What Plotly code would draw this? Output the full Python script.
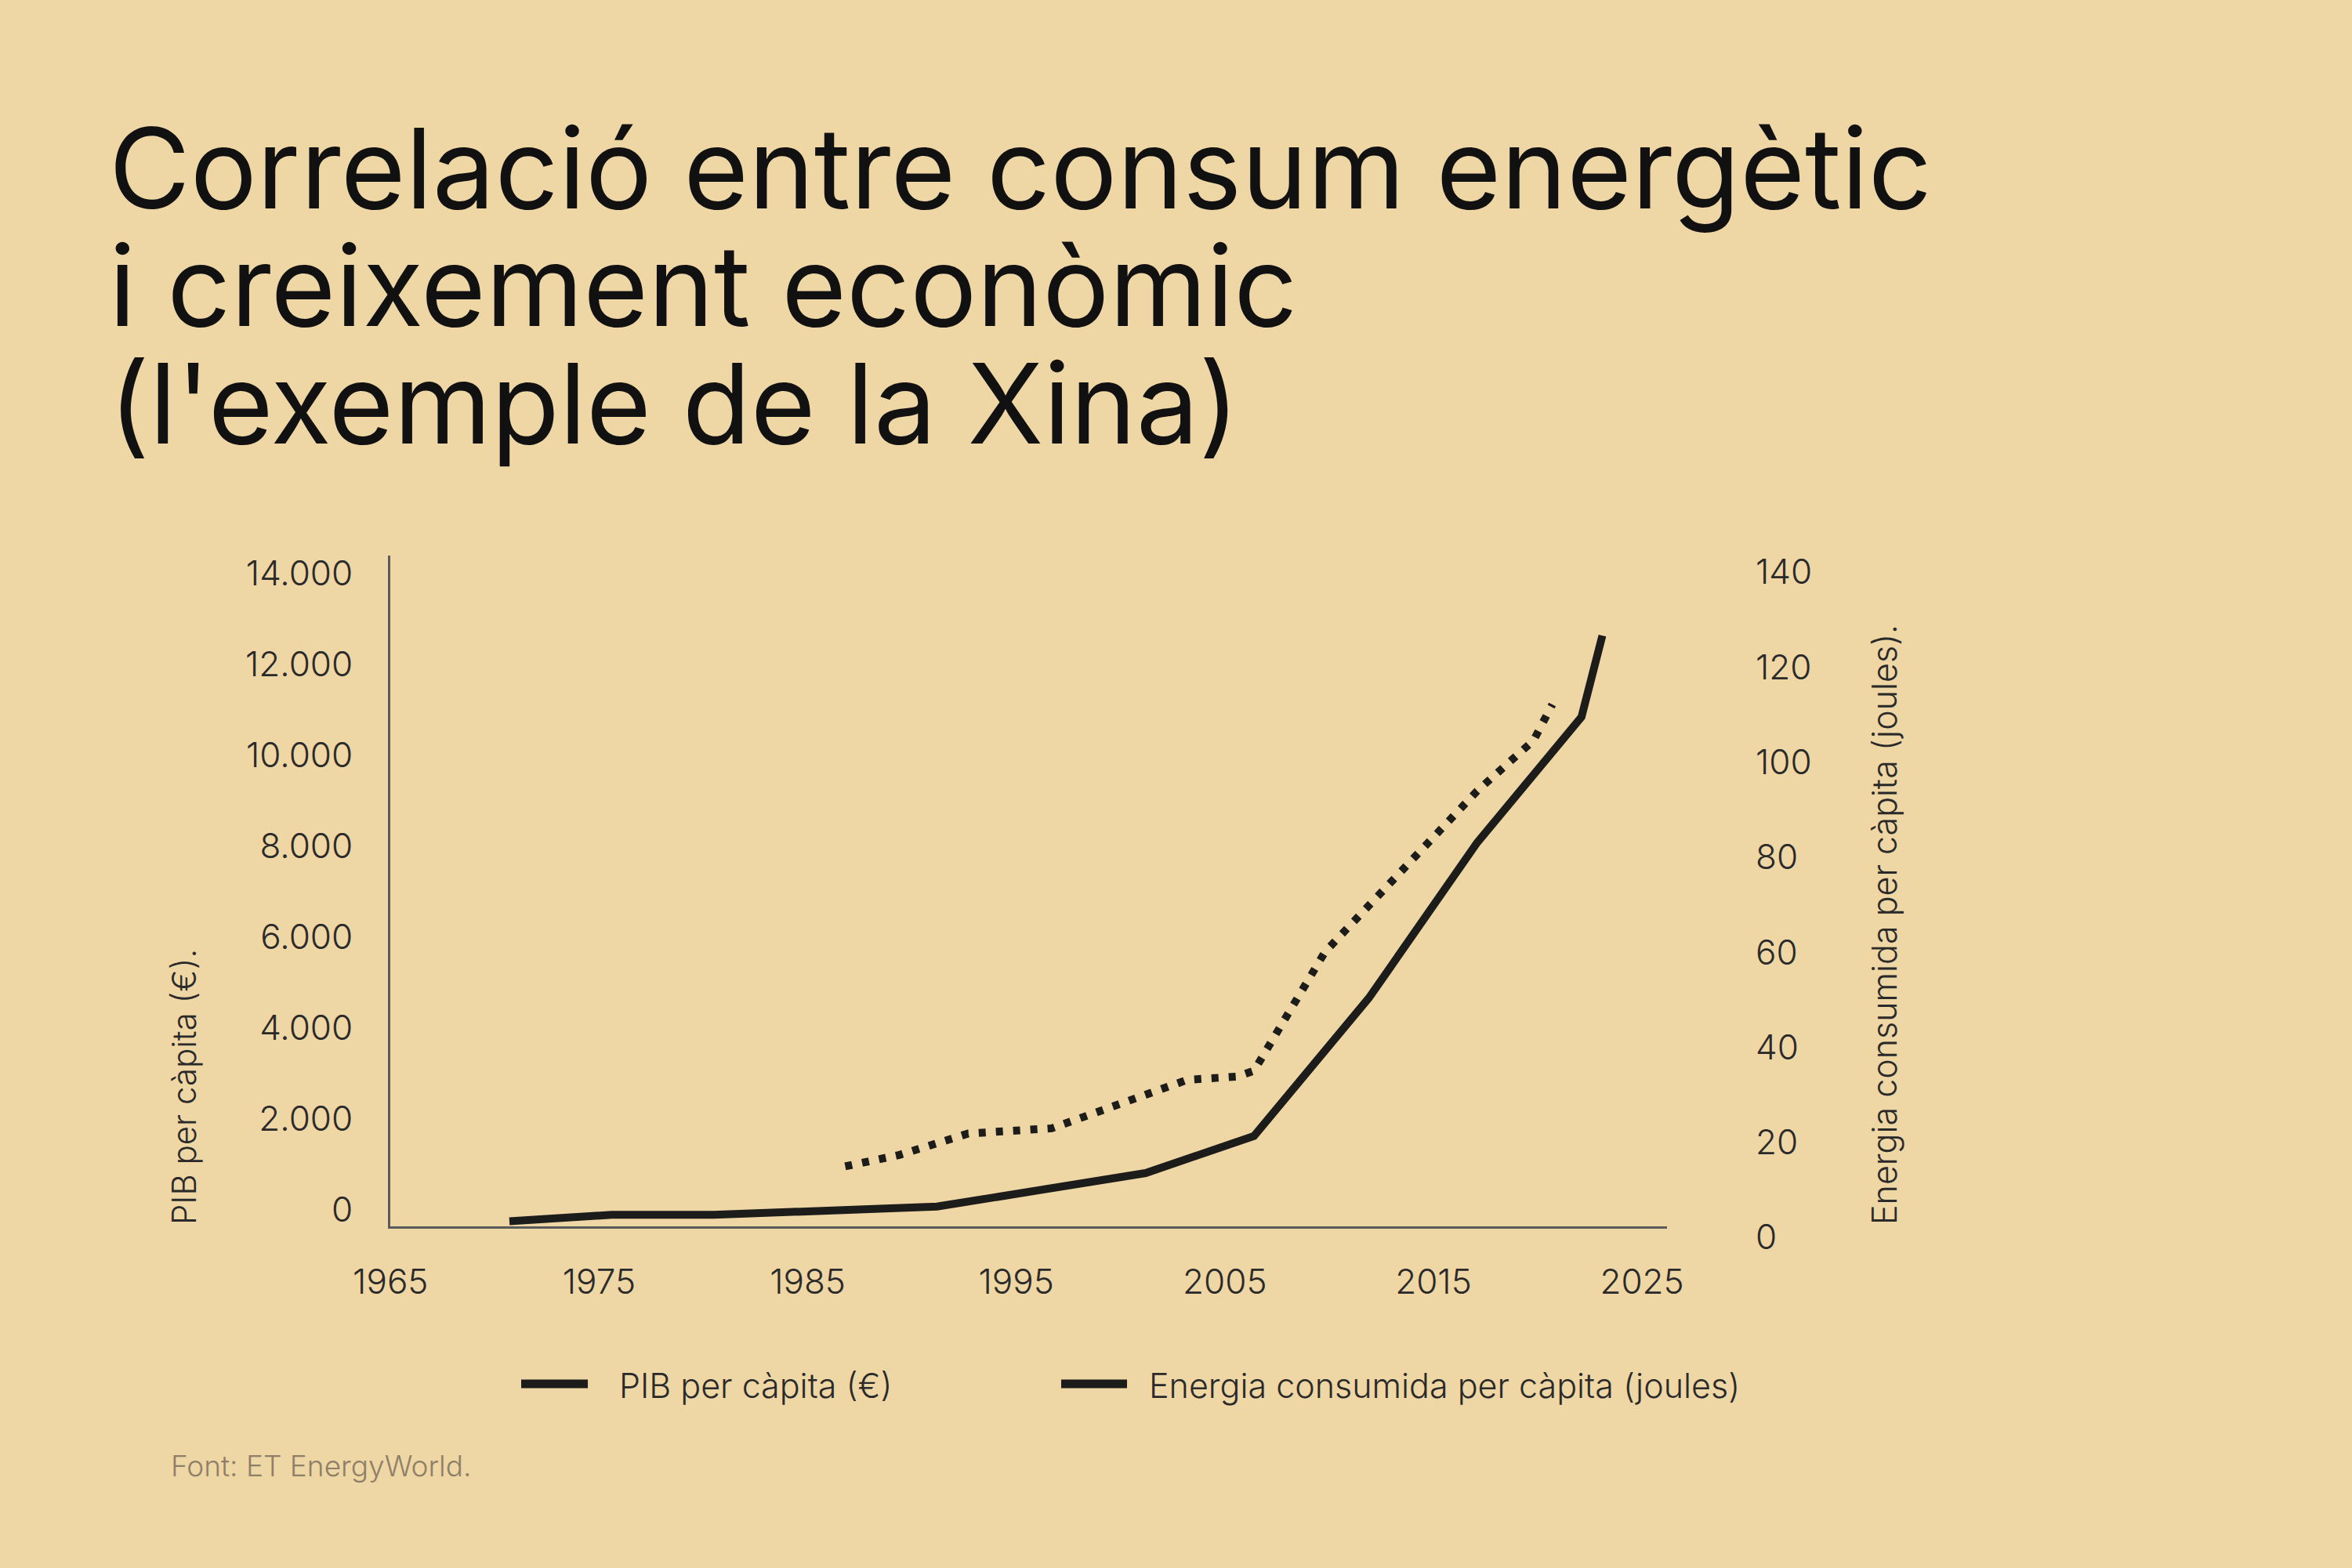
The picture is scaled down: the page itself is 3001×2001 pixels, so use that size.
import plotly.graph_objects as go

# --- data ---
pib_years = [1970.7, 1975.6, 1980.5, 1991.2, 2001.2, 2006.4, 2011.9, 2017.1, 2022.1, 2023.1]
pib_values = [24, 167, 167, 348, 1085, 1900, 4930, 8350, 11110, 12900]

energy_years = [1986.8, 1989.4, 1992.7, 1996.0, 1996.7, 2003.2, 2005.6, 2006.4, 2009.8, 2017.1, 2019.8, 2020.7]
energy_values = [12.3, 14.7, 19.2, 19.9, 20.3, 30.5, 31.2, 32.4, 57.4, 91.3, 101.9, 109.5]

x_ticks = [1965, 1975, 1985, 1995, 2005, 2015, 2025]
left_ticks = [0, 2000, 4000, 6000, 8000, 10000, 12000, 14000]
right_ticks = [0, 20, 40, 60, 80, 100, 120, 140]

series_names = ["PIB per càpita (€)", "Energia consumida per càpita (joules)"]
title_lines = ["Correlació entre consum energètic", "i creixement econòmic", "(l'exemple de la Xina)"]
left_title = "PIB per càpita (€)."
right_title = "Energia consumida per càpita (joules)."
source = "Font: ET EnergyWorld."

# --- page geometry (pixels) ---
W, H = 3001, 2001
L, R, T, B = 498, 2127, 709, 1565
BG = "#efd6a5"
INK = "#1c1c1b"
TXT = "#2a2a2a"
FONT = "Inter"


def px(x):
    return (x - L) / (R - L)


def py(y):
    return (B - y) / (B - T)


fig = go.Figure()
fig.add_trace(go.Scatter(x=pib_years, y=pib_values, mode="lines", name=series_names[0],
                         line=dict(color=INK, width=10), showlegend=False, yaxis="y"))
fig.add_trace(go.Scatter(x=energy_years, y=energy_values, mode="lines", name=series_names[1],
                         line=dict(color=INK, width=10, dash="9px,13px"), showlegend=False, yaxis="y2"))

tick_font = dict(family=FONT, size=44, color=TXT, weight=300)

fig.update_layout(
    width=W, height=H, autosize=False,
    margin=dict(l=L, r=W - R, t=T, b=H - B, pad=0),
    paper_bgcolor=BG, plot_bgcolor=BG,
    separators=",.",
    showlegend=False,
    xaxis=dict(range=[1964.99, 2026.2], tickvals=x_ticks, showgrid=False, zeroline=False,
               showline=True, linecolor="#5b5b5b", linewidth=3, ticks="",
               tickfont=tick_font, ticklabelstandoff=30),
    yaxis=dict(range=[-86, 14659], tickvals=left_ticks, tickformat=",d", showgrid=False,
               zeroline=False, showline=True, linecolor="#5b5b5b", linewidth=3, ticks="",
               tickfont=tick_font, ticklabelstandoff=36, ticklabelshift=-16),
    yaxis2=dict(range=[-0.33, 140.82], tickvals=right_ticks, overlaying="y", side="right",
                showgrid=False, zeroline=False, showline=False, ticks="",
                tickfont=tick_font, ticklabelstandoff=112, ticklabelshift=16),
)

annotations = []
# title, one annotation per line
for i, line in enumerate(title_lines):
    base = 265 + 150 * i
    annotations.append(dict(text=line, x=px(137), y=py(base - 0.36 * 142), xref="paper", yref="paper",
                            xanchor="left", yanchor="middle", showarrow=False,
                            font=dict(family=FONT, size=142, color="#111111")))
# axis titles
annotations.append(dict(text=left_title, x=px(234), y=0, xref="paper", yref="paper",
                        xanchor="center", yanchor="bottom", textangle=-90, showarrow=False,
                        font=dict(family=FONT, size=42, color=TXT, weight=300)))
annotations.append(dict(text=right_title, x=px(2404), y=0, xref="paper", yref="paper",
                        xanchor="center", yanchor="bottom", textangle=-90, showarrow=False,
                        font=dict(family=FONT, size=43, color=TXT, weight=300)))
# legend
legend_items = [(665, 750, 788), (1354, 1438, 1464)]
shapes = []
for (x0, x1, xt), name in zip(legend_items, series_names):
    shapes.append(dict(type="line", xref="paper", yref="paper", x0=px(x0), x1=px(x1),
                       y0=py(1766), y1=py(1766), line=dict(color=INK, width=11)))
    annotations.append(dict(text=name, x=px(xt), y=py(1768), xref="paper", yref="paper",
                            xanchor="left", yanchor="middle", showarrow=False,
                            font=dict(family=FONT, size=43, color=TXT, weight=300)))
# source
annotations.append(dict(text=source, x=px(216), y=py(1870), xref="paper", yref="paper",
                        xanchor="left", yanchor="middle", showarrow=False,
                        font=dict(family=FONT, size=37, color="#8e8068", weight=300)))

fig.update_layout(annotations=annotations, shapes=shapes)

fig.write_html("out.html", config={"displayModeBar": False},
               post_script="document.body.style.margin='0';")
